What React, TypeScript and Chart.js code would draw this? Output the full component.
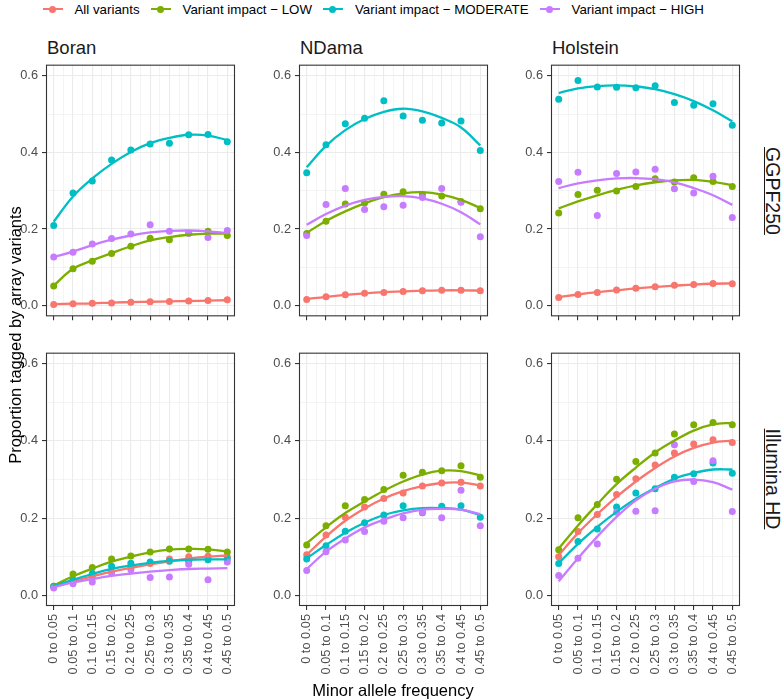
import React, { useEffect, useRef } from 'react';
import { Chart, registerables } from 'chart.js';

Chart.register(...registerables);

const FONT = "'Liberation Sans', Arial, Helvetica, sans-serif";

// ---------- labels ----------
const MAF_CATEGORIES = [
  '0 to 0.05', '0.05 to 0.1', '0.1 to 0.15', '0.15 to 0.2', '0.2 to 0.25',
  '0.25 to 0.3', '0.3 to 0.35', '0.35 to 0.4', '0.4 to 0.45', '0.45 to 0.5',
];
const SERIES_LABELS = ['All variants', 'Variant impact \u2212 LOW', 'Variant impact \u2212 MODERATE', 'Variant impact \u2212 HIGH'];
const SERIES_COLORS = ['#F8766D', '#7CAE00', '#00BFC4', '#C77CFF'];
const BREEDS = ['Boran', 'NDama', 'Holstein'];
const ARRAYS = ['GGPF250', 'Illumina HD'];
const Y_TICK_VALUES = [0, 0.1, 0.2, 0.3, 0.4, 0.5, 0.6];
const Y_TITLE = 'Proportion tagged by array variants';
const X_TITLE = 'Minor allele frequency';

// ---------- Boran, GGPF250 ----------
const boranGgpfAll = [0.003, 0.005, 0.006, 0.007, 0.009, 0.010, 0.011, 0.012, 0.013, 0.015];
const boranGgpfAllFit = [0.004, 0.005, 0.006, 0.008, 0.009, 0.010, 0.011, 0.012, 0.013, 0.014];
const boranGgpfLow = [0.051, 0.096, 0.116, 0.136, 0.155, 0.176, 0.172, 0.189, 0.194, 0.183];
const boranGgpfLowFit = [0.052, 0.096, 0.118, 0.137, 0.155, 0.170, 0.179, 0.185, 0.188, 0.188];
const boranGgpfMod = [0.209, 0.294, 0.325, 0.380, 0.406, 0.422, 0.424, 0.446, 0.447, 0.428];
const boranGgpfModFit = [0.219, 0.285, 0.332, 0.370, 0.401, 0.424, 0.438, 0.446, 0.444, 0.432];
const boranGgpfHigh = [0.127, 0.139, 0.161, 0.175, 0.187, 0.211, 0.194, 0.189, 0.178, 0.196];
const boranGgpfHighFit = [0.127, 0.141, 0.158, 0.172, 0.183, 0.191, 0.195, 0.196, 0.194, 0.189];

// ---------- NDama, GGPF250 ----------
const ndamaGgpfAll = [0.016, 0.023, 0.028, 0.032, 0.034, 0.037, 0.039, 0.040, 0.040, 0.039];
const ndamaGgpfAllFit = [0.017, 0.023, 0.028, 0.032, 0.035, 0.037, 0.039, 0.040, 0.040, 0.039];
const ndamaGgpfLow = [0.188, 0.220, 0.265, 0.268, 0.291, 0.297, 0.290, 0.286, 0.272, 0.253];
const ndamaGgpfLowFit = [0.190, 0.221, 0.246, 0.267, 0.283, 0.293, 0.296, 0.290, 0.276, 0.255];
const ndamaGgpfMod = [0.347, 0.420, 0.475, 0.489, 0.535, 0.495, 0.484, 0.477, 0.482, 0.405];
const ndamaGgpfModFit = [0.361, 0.417, 0.458, 0.487, 0.506, 0.514, 0.507, 0.490, 0.465, 0.418];
const ndamaGgpfHigh = [0.183, 0.264, 0.306, 0.251, 0.258, 0.262, 0.282, 0.306, 0.270, 0.180];
const ndamaGgpfHighFit = [0.211, 0.239, 0.261, 0.276, 0.284, 0.286, 0.280, 0.266, 0.244, 0.212];

// ---------- Holstein, GGPF250 ----------
const holsteinGgpfAll = [0.021, 0.029, 0.034, 0.041, 0.045, 0.049, 0.053, 0.055, 0.058, 0.057];
const holsteinGgpfAllFit = [0.022, 0.029, 0.035, 0.040, 0.045, 0.049, 0.052, 0.055, 0.057, 0.058];
const holsteinGgpfLow = [0.242, 0.290, 0.301, 0.299, 0.311, 0.331, 0.323, 0.334, 0.324, 0.311];
const holsteinGgpfLowFit = [0.254, 0.272, 0.288, 0.302, 0.314, 0.322, 0.327, 0.328, 0.323, 0.314];
const holsteinGgpfMod = [0.539, 0.588, 0.571, 0.570, 0.569, 0.574, 0.530, 0.523, 0.527, 0.471];
const holsteinGgpfModFit = [0.555, 0.567, 0.573, 0.575, 0.572, 0.565, 0.552, 0.534, 0.510, 0.481];
const holsteinGgpfHigh = [0.324, 0.348, 0.235, 0.345, 0.349, 0.356, 0.305, 0.294, 0.338, 0.230];
const holsteinGgpfHighFit = [0.307, 0.319, 0.327, 0.332, 0.333, 0.330, 0.322, 0.307, 0.288, 0.263];

// ---------- Boran, Illumina HD ----------
const boranHdAll = [0.022, 0.034, 0.048, 0.060, 0.072, 0.082, 0.094, 0.100, 0.101, 0.100];
const boranHdAllFit = [0.022, 0.036, 0.049, 0.061, 0.071, 0.080, 0.088, 0.095, 0.100, 0.103];
const boranHdLow = [0.023, 0.055, 0.072, 0.094, 0.102, 0.112, 0.120, 0.120, 0.119, 0.112];
const boranHdLowFit = [0.025, 0.049, 0.069, 0.087, 0.100, 0.111, 0.118, 0.120, 0.119, 0.113];
const boranHdMod = [0.023, 0.040, 0.056, 0.075, 0.083, 0.086, 0.088, 0.088, 0.092, 0.094];
const boranHdModFit = [0.023, 0.040, 0.055, 0.068, 0.077, 0.084, 0.089, 0.092, 0.093, 0.093];
const boranHdHigh = [0.019, 0.030, 0.034, 0.058, 0.066, 0.046, 0.047, 0.080, 0.040, 0.086];
const boranHdHighFit = [0.021, 0.033, 0.042, 0.050, 0.056, 0.061, 0.065, 0.068, 0.069, 0.070];

// ---------- NDama, Illumina HD ----------
const ndamaHdAll = [0.105, 0.156, 0.202, 0.229, 0.251, 0.265, 0.283, 0.291, 0.293, 0.283];
const ndamaHdAllFit = [0.105, 0.152, 0.193, 0.225, 0.251, 0.270, 0.283, 0.291, 0.292, 0.285];
const ndamaHdLow = [0.130, 0.180, 0.232, 0.248, 0.274, 0.311, 0.319, 0.323, 0.336, 0.306];
const ndamaHdLowFit = [0.135, 0.176, 0.213, 0.243, 0.271, 0.295, 0.313, 0.323, 0.322, 0.311];
const ndamaHdMod = [0.094, 0.128, 0.166, 0.188, 0.208, 0.232, 0.214, 0.231, 0.232, 0.202];
const ndamaHdModFit = [0.096, 0.130, 0.162, 0.188, 0.208, 0.220, 0.226, 0.226, 0.222, 0.208];
const ndamaHdHigh = [0.064, 0.113, 0.143, 0.165, 0.192, 0.201, 0.215, 0.201, 0.272, 0.180];
const ndamaHdHighFit = [0.068, 0.113, 0.147, 0.176, 0.196, 0.212, 0.222, 0.224, 0.222, 0.210];

// ---------- Holstein, Illumina HD ----------
const holsteinHdAll = [0.100, 0.165, 0.209, 0.261, 0.302, 0.338, 0.369, 0.392, 0.403, 0.396];
const holsteinHdAllFit = [0.104, 0.161, 0.210, 0.255, 0.295, 0.330, 0.360, 0.382, 0.396, 0.401];
const holsteinHdLow = [0.118, 0.201, 0.235, 0.301, 0.347, 0.369, 0.418, 0.442, 0.448, 0.442];
const holsteinHdLowFit = [0.121, 0.181, 0.236, 0.288, 0.331, 0.370, 0.401, 0.427, 0.443, 0.447];
const holsteinHdMod = [0.082, 0.139, 0.172, 0.229, 0.265, 0.276, 0.306, 0.315, 0.343, 0.316];
const holsteinHdModFit = [0.083, 0.133, 0.177, 0.216, 0.250, 0.278, 0.302, 0.317, 0.326, 0.326];
const holsteinHdHigh = [0.051, 0.096, 0.133, 0.215, 0.218, 0.219, 0.390, 0.295, 0.349, 0.217];
const holsteinHdHighFit = [0.036, 0.096, 0.152, 0.203, 0.246, 0.276, 0.295, 0.300, 0.293, 0.274];

// panel table built from the arrays above: [row][col]
const PANELS = [
  [
    { pts: [boranGgpfAll, boranGgpfLow, boranGgpfMod, boranGgpfHigh], fit: [boranGgpfAllFit, boranGgpfLowFit, boranGgpfModFit, boranGgpfHighFit] },
    { pts: [ndamaGgpfAll, ndamaGgpfLow, ndamaGgpfMod, ndamaGgpfHigh], fit: [ndamaGgpfAllFit, ndamaGgpfLowFit, ndamaGgpfModFit, ndamaGgpfHighFit] },
    { pts: [holsteinGgpfAll, holsteinGgpfLow, holsteinGgpfMod, holsteinGgpfHigh], fit: [holsteinGgpfAllFit, holsteinGgpfLowFit, holsteinGgpfModFit, holsteinGgpfHighFit] },
  ],
  [
    { pts: [boranHdAll, boranHdLow, boranHdMod, boranHdHigh], fit: [boranHdAllFit, boranHdLowFit, boranHdModFit, boranHdHighFit] },
    { pts: [ndamaHdAll, ndamaHdLow, ndamaHdMod, ndamaHdHigh], fit: [ndamaHdAllFit, ndamaHdLowFit, ndamaHdModFit, ndamaHdHighFit] },
    { pts: [holsteinHdAll, holsteinHdLow, holsteinHdMod, holsteinHdHigh], fit: [holsteinHdAllFit, holsteinHdLowFit, holsteinHdModFit, holsteinHdHighFit] },
  ],
];

// ---------- layout ----------
const COL_LEFT = [46, 299, 551];
const ROW_TOP = [63, 351];
const PANEL_W = 189;
const PANEL_H = 255;
const Y_AXIS_W = 44;
const PAD_TOP = 10;
const PAD_RIGHT = 14;
const X_AXIS_H = [10, 80];
const Y_MIN = -0.028;
const Y_MAX = 0.629;
const X_MIN = -0.4;
const X_MAX = 9.4;

const X_TICK_POSITIONS = MAF_CATEGORIES.flatMap((_, i) => (i < MAF_CATEGORIES.length - 1 ? [i, i + 0.5] : [i]));

const isWhole = (v: number) => Math.abs(v - Math.round(v)) < 1e-6;
const isMajorY = (v: number) => Math.round(v * 10) % 2 === 0;

const borderPlugin = {
  id: 'panelBorder',
  afterDraw(chart: any) {
    const { ctx, chartArea } = chart;
    const { left, top, right, bottom } = chartArea;
    ctx.save();
    ctx.strokeStyle = '#333333';
    ctx.lineWidth = 1.1;
    ctx.strokeRect(left + 0.5, top + 0.5, right - left - 1, bottom - top - 1);
    ctx.restore();
  },
};

function Panel({ row, col }: { row: number; col: number }) {
  const ref = useRef<HTMLCanvasElement | null>(null);
  const showLabels = row === 1;
  const xh = X_AXIS_H[row];
  const width = Y_AXIS_W + PANEL_W + PAD_RIGHT;
  const height = PAD_TOP + PANEL_H + xh;

  useEffect(() => {
    if (!ref.current) return;
    const panel = PANELS[row][col];
    const datasets: any[] = [];
    for (let s = SERIES_LABELS.length - 1; s >= 0; s--) {
      datasets.push({
        label: SERIES_LABELS[s] + ' fit',
        data: panel.fit[s].map((v, i) => ({ x: i, y: v })),
        borderColor: SERIES_COLORS[s],
        borderWidth: 2.3,
        pointRadius: 0,
        tension: 0.4,
        fill: false,
      });
    }
    for (let s = SERIES_LABELS.length - 1; s >= 0; s--) {
      datasets.push({
        label: SERIES_LABELS[s],
        data: panel.pts[s].map((v, i) => ({ x: i, y: v })),
        showLine: false,
        pointRadius: 3.5,
        pointBackgroundColor: SERIES_COLORS[s],
        pointBorderWidth: 0,
        borderColor: SERIES_COLORS[s],
      });
    }
    const tickFont = { family: FONT, size: 12.8 };
    const chart = new Chart(ref.current, {
      type: 'line',
      data: { datasets },
      plugins: [borderPlugin],
      options: {
        animation: false,
        responsive: false,
        events: [],
        layout: { padding: { top: PAD_TOP, right: PAD_RIGHT, left: 0, bottom: 0 } },
        plugins: { legend: { display: false }, tooltip: { enabled: false } },
        scales: {
          x: {
            type: 'linear',
            min: X_MIN,
            max: X_MAX,
            afterBuildTicks: (sc: any) => {
              sc.ticks = X_TICK_POSITIONS.map((v) => ({ value: v }));
            },
            afterFit: (sc: any) => {
              sc.height = xh;
            },
            ticks: {
              autoSkip: false,
              minRotation: 90,
              maxRotation: 90,
              padding: 4,
              color: '#4D4D4D',
              font: tickFont,
              callback: (v: any) => {
                const n = Number(v);
                if (!showLabels || !isWhole(n)) return '';
                return MAF_CATEGORIES[Math.round(n)];
              },
            },
            grid: {
              color: '#EBEBEB',
              lineWidth: (ctx: any) => (ctx.tick && isWhole(ctx.tick.value) ? 1.1 : 0.55),
              tickLength: 4,
              tickWidth: 1.1,
              tickColor: (ctx: any) => (ctx.tick && isWhole(ctx.tick.value) ? '#333333' : 'rgba(0,0,0,0)'),
            },
            border: { display: false },
          },
          y: {
            type: 'linear',
            min: Y_MIN,
            max: Y_MAX,
            afterBuildTicks: (sc: any) => {
              sc.ticks = Y_TICK_VALUES.map((v) => ({ value: v }));
            },
            afterFit: (sc: any) => {
              sc.width = Y_AXIS_W;
            },
            ticks: {
              padding: 4,
              color: '#4D4D4D',
              font: tickFont,
              callback: (v: any) => {
                const n = Number(v);
                return isMajorY(n) ? n.toFixed(1) : '';
              },
            },
            grid: {
              color: '#EBEBEB',
              lineWidth: (ctx: any) => (ctx.tick && isMajorY(ctx.tick.value) ? 1.1 : 0.55),
              tickLength: 4,
              tickWidth: 1.1,
              tickColor: (ctx: any) => (ctx.tick && isMajorY(ctx.tick.value) ? '#333333' : 'rgba(0,0,0,0)'),
            },
            border: { display: false },
          },
        },
      } as any,
    });
    return () => chart.destroy();
  }, [row, col]);

  return (
    <canvas
      ref={ref}
      width={width}
      height={height}
      style={{
        position: 'absolute',
        left: COL_LEFT[col] - Y_AXIS_W,
        top: ROW_TOP[row] - PAD_TOP,
        width,
        height,
      }}
    />
  );
}

function Legend() {
  return (
    <div
      style={{
        position: 'absolute',
        left: 42.5,
        top: 0,
        height: 18,
        display: 'flex',
        alignItems: 'center',
        fontSize: 13.3,
        color: '#000',
        whiteSpace: 'nowrap',
      }}
    >
      {SERIES_LABELS.map((lab, i) => (
        <div key={lab} style={{ display: 'flex', alignItems: 'center', marginRight: 11 }}>
          <div style={{ position: 'relative', width: 20, height: 18, marginRight: 12 }}>
            <div style={{ position: 'absolute', left: 0, top: 7.9, width: 20, height: 2.3, background: SERIES_COLORS[i] }} />
            <div style={{ position: 'absolute', left: 6.5, top: 5.5, width: 7, height: 7, borderRadius: '50%', background: SERIES_COLORS[i] }} />
          </div>
          <span>{lab}</span>
        </div>
      ))}
    </div>
  );
}

export default function App() {
  return (
    <div
      style={{
        position: 'absolute',
        left: 0,
        top: 0,
        width: 784,
        height: 699,
        background: '#fff',
        fontFamily: FONT,
        overflow: 'hidden',
      }}
    >
      <Legend />
      {BREEDS.map((b, c) => (
        <div
          key={b}
          style={{ position: 'absolute', left: COL_LEFT[c] + 1, top: 36.5, lineHeight: '21px', fontSize: 18.5, color: '#1A1A1A' }}
        >
          {b}
        </div>
      ))}
      {ARRAYS.map((a, r) => (
        <div
          key={a}
          style={{
            position: 'absolute',
            left: 772.8 - 100,
            top: ROW_TOP[r] + PANEL_H / 2 - 11,
            width: 200,
            height: 22,
            lineHeight: '22px',
            fontSize: 19.5,
            color: '#1A1A1A',
            textAlign: 'center',
            textDecoration: 'underline',
            transform: 'rotate(90deg)',
          }}
        >
          {a}
        </div>
      ))}
      {[0, 1].map((r) => BREEDS.map((_, c) => <Panel key={`${r}-${c}`} row={r} col={c} />))}
      <div
        style={{
          position: 'absolute',
          left: 14.5 - 200,
          top: (ROW_TOP[0] + ROW_TOP[1] + PANEL_H) / 2 - 10,
          width: 400,
          height: 20,
          lineHeight: '20px',
          fontSize: 16.5,
          color: '#000',
          textAlign: 'center',
          transform: 'rotate(-90deg)',
        }}
      >
        {Y_TITLE}
      </div>
      <div
        style={{
          position: 'absolute',
          left: (COL_LEFT[0] + COL_LEFT[2] + PANEL_W) / 2 - 200,
          top: 680,
          width: 400,
          height: 20,
          lineHeight: '20px',
          fontSize: 16.5,
          color: '#000',
          textAlign: 'center',
        }}
      >
        {X_TITLE}
      </div>
    </div>
  );
}
